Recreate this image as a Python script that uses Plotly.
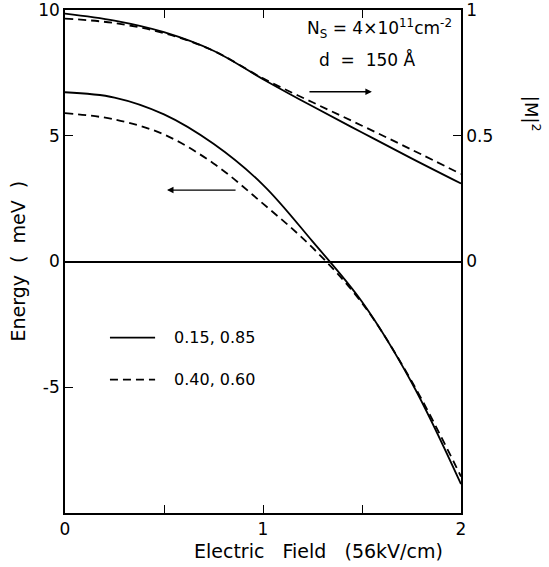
import plotly.graph_objects as go

# Electric field (units of 56 kV/cm)
field = [0, 0.25, 0.5, 0.75, 1.0, 1.25, 1.5, 1.75, 2.0]

# Energy (meV), left axis
energy_solid = [6.73, 6.52, 5.85, 4.68, 3.05, 0.8, -1.6, -4.8, -8.85]   # 0.15, 0.85
energy_dashed = [5.90, 5.65, 5.05, 3.90, 2.30, 0.55, -1.65, -4.75, -8.55]  # 0.40, 0.60

# |M|^2, right axis
m2_solid = [0.986, 0.958, 0.912, 0.838, 0.725, 0.617, 0.513, 0.410, 0.310]
m2_dashed = [0.966, 0.948, 0.908, 0.838, 0.728, 0.633, 0.540, 0.445, 0.348]

legend_labels = ["0.15, 0.85", "0.40, 0.60"]

FONT = "DejaVu Sans"
LW = 1.8
DASH = "8px,5px"

fig = go.Figure()
fig.add_trace(go.Scatter(x=field, y=energy_solid, mode="lines", line=dict(color="black", width=LW, shape="spline", smoothing=1.0), showlegend=False))
fig.add_trace(go.Scatter(x=field, y=energy_dashed, mode="lines", line=dict(color="black", width=LW, dash=DASH, shape="spline", smoothing=1.0), showlegend=False))
fig.add_trace(go.Scatter(x=field, y=m2_solid, mode="lines", yaxis="y2", line=dict(color="black", width=LW, shape="spline", smoothing=1.0), showlegend=False))
fig.add_trace(go.Scatter(x=field, y=m2_dashed, mode="lines", yaxis="y2", line=dict(color="black", width=LW, dash=DASH, shape="spline", smoothing=1.0), showlegend=False))

# legend samples (data coordinates)
fig.add_shape(type="line", x0=0.227, x1=0.455, y0=-3.03, y1=-3.03, xref="x", yref="y", line=dict(color="black", width=LW))
fig.add_shape(type="line", x0=0.227, x1=0.455, y0=-4.7, y1=-4.7, xref="x", yref="y", line=dict(color="black", width=LW, dash=DASH))
fig.add_annotation(x=0.54, y=-3.03, xref="x", yref="y", text=legend_labels[0], showarrow=False, xanchor="left", font=dict(family=FONT, size=16, color="black"))
fig.add_annotation(x=0.54, y=-4.7, xref="x", yref="y", text=legend_labels[1], showarrow=False, xanchor="left", font=dict(family=FONT, size=16, color="black"))

# text block
fig.add_annotation(x=1.59, y=9.25, xref="x", yref="y", xanchor="center", text="N<sub>S</sub> = 4×10<sup>11</sup>cm<sup>-2</sup>", showarrow=False, font=dict(family=FONT, size=17, color="black"))
fig.add_annotation(x=1.53, y=8.05, xref="x", yref="y", xanchor="center", text="d  =  150 Å", showarrow=False, font=dict(family=FONT, size=17, color="black"))

# arrows
fig.add_annotation(x=1.55, y=6.75, ax=1.227, ay=6.75, xref="x", yref="y", axref="x", ayref="y", text="", showarrow=True, arrowhead=2, arrowsize=1, arrowwidth=1.3, arrowcolor="black")
fig.add_annotation(x=0.515, y=2.84, ax=0.869, ay=2.84, xref="x", yref="y", axref="x", ayref="y", text="", showarrow=True, arrowhead=2, arrowsize=1, arrowwidth=1.3, arrowcolor="black")

# axis titles
fig.add_annotation(x=0.639, y=-0.075, xref="paper", yref="paper", xanchor="center", yanchor="middle", text="Electric   Field   (56kV/cm)", showarrow=False, font=dict(family=FONT, size=19, color="black"))
fig.add_annotation(x=-0.121, y=0.5, xref="paper", yref="paper", xanchor="center", yanchor="middle", text="Energy  (  meV  )", textangle=-90, showarrow=False, font=dict(family=FONT, size=19, color="black"))
fig.add_annotation(x=1.18, y=5.86, xref="paper", yref="y", xanchor="center", yanchor="middle", text="|M|<sup>2</sup>", textangle=90, showarrow=False, font=dict(family=FONT, size=18, color="black"))

axis_common = dict(showline=True, linecolor="black", linewidth=1.6, ticks="inside", ticklen=8, tickcolor="black", tickwidth=1.4, showgrid=False, automargin=False, ticklabeloverflow="allow", tickfont=dict(family=FONT, size=17, color="black"))

fig.update_layout(
    width=549, height=567,
    margin=dict(l=65, r=88, t=10, b=54, autoexpand=False),
    paper_bgcolor="white", plot_bgcolor="white",
    xaxis=dict(range=[0, 2], tickvals=[0, 0.5, 1, 1.5, 2], ticktext=["0", "", "1", "", "2"], mirror="ticks", zeroline=False, **axis_common),
    yaxis=dict(range=[-10, 10], tickvals=[-5, 0, 5, 10], ticktext=["-5", "0", "5", "10"], zeroline=True, zerolinecolor="black", zerolinewidth=1.6, **axis_common),
    yaxis2=dict(range=[-1, 1], overlaying="y", side="right", tickvals=[0, 0.5, 1], ticktext=["0", "0.5", "1"], zeroline=False, **axis_common),
)

fig.write_html("out.html", config={"displayModeBar": False}, post_script="document.body.style.margin='0';")
